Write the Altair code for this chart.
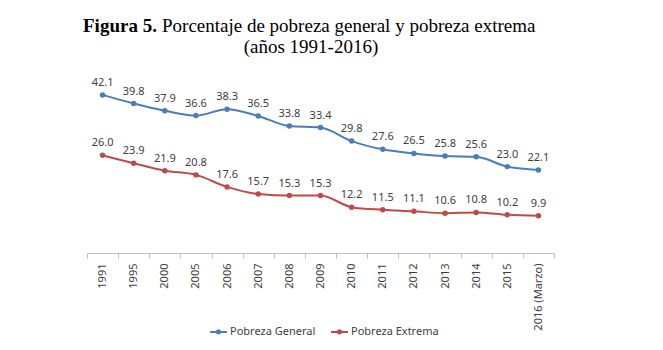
import altair as alt
import pandas as pd

years = ["1991", "1995", "2000", "2005", "2006", "2007", "2008", "2009",
         "2010", "2011", "2012", "2013", "2014", "2015", "2016 (Marzo)"]
pobreza_general = [42.1, 39.8, 37.9, 36.6, 38.3, 36.5, 33.8, 33.4,
                   29.8, 27.6, 26.5, 25.8, 25.6, 23.0, 22.1]
pobreza_extrema = [26.0, 23.9, 21.9, 20.8, 17.6, 15.7, 15.3, 15.3,
                   12.2, 11.5, 11.1, 10.6, 10.8, 10.2, 9.9]
series_names = ["Pobreza General", "Pobreza Extrema"]
series_colors = ["#4a7ebb", "#be4b48"]

rows = []
for name, vals in zip(series_names, [pobreza_general, pobreza_extrema]):
    for y, v in zip(years, vals):
        rows.append({"Año": y, "Serie": name, "Valor": v})
df = pd.DataFrame(rows)

FONT = "Noto Sans"
TXT = "#404040"

x_enc = alt.X("Año:N", sort=years, title=None,
              scale=alt.Scale(type="band", paddingInner=0, paddingOuter=0),
              axis=alt.Axis(labelAngle=-90, labelFont=FONT, labelFontSize=11,
                            labelColor=TXT, domainColor="#bfbfbf", tickColor="#bfbfbf",
                            tickSize=5, tickBand="extent", labelPadding=5,
                            grid=False))
y_enc = alt.Y("Valor:Q", scale=alt.Scale(domain=[0, 45]), axis=None)
color_enc = alt.Color("Serie:N", sort=series_names,
                      scale=alt.Scale(domain=series_names, range=series_colors),
                      legend=alt.Legend(title=None, orient="none", direction="horizontal",
                                        legendX=122, legendY=238,
                                        symbolType="M-1,0L1,0M-0.2,0A0.2,0.2,0,1,1,0.2,0A0.2,0.2,0,1,1,-0.2,0Z",
                                        symbolSize=289, symbolStrokeWidth=2,
                                        labelFont=FONT, labelFontSize=11, labelColor=TXT,
                                        labelOffset=2, columnPadding=11))

base = alt.Chart(df)
lines = base.mark_line(interpolate="monotone", strokeWidth=2).encode(
    x=x_enc, y=y_enc, color=color_enc)
points = base.mark_point(filled=True, size=30, opacity=1).encode(
    x=x_enc, y=y_enc, color=alt.Color("Serie:N", sort=series_names,
                                      scale=alt.Scale(domain=series_names, range=series_colors),
                                      legend=None))
labels = base.mark_text(font=FONT, fontSize=11, color=TXT, baseline="alphabetic", dy=-9).encode(
    x=x_enc, y=y_enc, text=alt.Text("Valor:Q", format=".1f"))

title_data = alt.Data(values=[{}])
t1 = alt.Chart(title_data).mark_text(text="Figura 5.", font="Liberation Serif", fontSize=19,
                                     fontWeight="bold", align="left", baseline="alphabetic",
                                     color="black").encode(x=alt.value(-4), y=alt.value(-52))
t2 = alt.Chart(title_data).mark_text(text="Porcentaje de pobreza general y pobreza extrema",
                                     font="Liberation Serif", fontSize=19, align="left",
                                     baseline="alphabetic", color="black").encode(
    x=alt.value(75), y=alt.value(-52))
t3 = alt.Chart(title_data).mark_text(text="(años 1991-2016)", font="Liberation Serif", fontSize=19,
                                     align="center", baseline="alphabetic", color="black").encode(
    x=alt.value(224), y=alt.value(-31))

chart = alt.layer(lines, points, labels, t1, t2, t3).properties(
    width=467, height=169,
    autosize=alt.AutoSizeParams(type="none"),
    padding={"left": 87, "top": 84, "right": 109, "bottom": 97},
    background="white",
).configure_view(stroke=None)

chart.save("out.html", embed_options={"renderer": "svg", "actions": False})
